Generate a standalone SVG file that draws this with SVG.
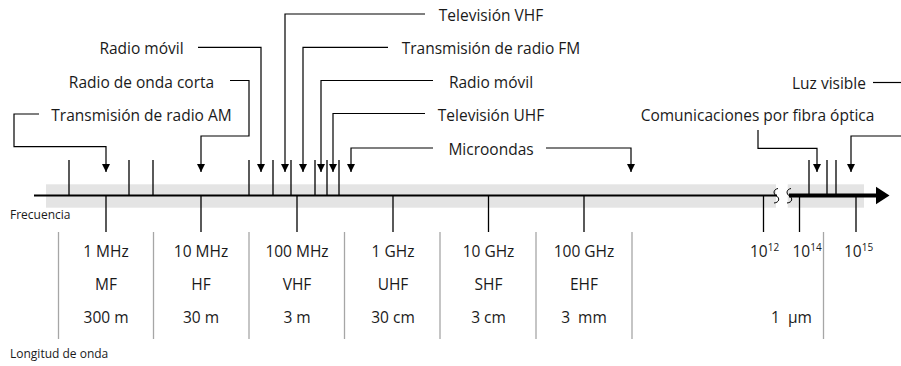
<svg xmlns="http://www.w3.org/2000/svg" width="901" height="366" viewBox="0 0 901 366">
<defs>
<marker id="ah" markerUnits="userSpaceOnUse" markerWidth="9" markerHeight="9" refX="8" refY="4" orient="auto">
<path d="M0,0 L8,4 L0,8 z" fill="#000"/>
</marker>
<style>
.t{font-family:"Open Sans","Noto Sans","Liberation Sans",sans-serif;font-size:15.5px;fill:#1a1a1a}
.s{font-family:"Open Sans","Noto Sans","Liberation Sans",sans-serif;font-size:12px;fill:#1a1a1a}
.c{text-anchor:middle}
.sup{font-size:10px}
.con{fill:none;stroke:#000;stroke-width:1.2}
.arr{marker-end:url(#ah)}
.tick{stroke:#000;stroke-width:1.3}
.sep{stroke:#a6a6a6;stroke-width:1.3}
.band{fill:#e4e4e4}
</style>
</defs>

<g id="axis">
<rect class="band" x="46" y="184.3" width="730" height="23.4"/>
<rect class="band" x="787.7" y="184.3" width="76.3" height="23.4"/>
<line x1="34" y1="195.5" x2="777" y2="195.5" stroke="#000" stroke-width="2.2"/>
<path d="M778,188.5 C773,189.5 773,194 776.5,196 C780,198 779.5,202.5 774,203" fill="none" stroke="#000" stroke-width="1"/>
<path d="M791,188.5 C786,189.5 786,194 789.5,196 C793,198 792.5,202.5 787,203" fill="none" stroke="#000" stroke-width="1"/>
<line x1="789" y1="195.5" x2="878" y2="195.5" stroke="#000" stroke-width="4"/>
<polygon points="876,186.7 889.5,195.5 876,204.3" fill="#000"/>
</g>

<g id="upper-ticks">
<line class="tick" x1="69" y1="160" x2="69" y2="195"/>
<line class="tick" x1="129" y1="160" x2="129" y2="195"/>
<line class="tick" x1="153" y1="160" x2="153" y2="195"/>
<line class="tick" x1="249" y1="160" x2="249" y2="195"/>
<line class="tick" x1="273" y1="160" x2="273" y2="195"/>
<line class="tick" x1="291" y1="160" x2="291" y2="195"/>
<line class="tick" x1="315" y1="160" x2="315" y2="195"/>
<line class="tick" x1="327" y1="160" x2="327" y2="195"/>
<line class="tick" x1="339" y1="160" x2="339" y2="195"/>
<line class="tick" x1="809" y1="160" x2="809" y2="195"/>
<line class="tick" x1="827" y1="160" x2="827" y2="195"/>
<line class="tick" x1="836" y1="160" x2="836" y2="195"/>
</g>

<g id="lower-ticks">
<line class="tick" x1="106" y1="196" x2="106" y2="232"/>
<line class="tick" x1="201" y1="196" x2="201" y2="232"/>
<line class="tick" x1="297" y1="196" x2="297" y2="232"/>
<line class="tick" x1="393" y1="196" x2="393" y2="232"/>
<line class="tick" x1="488.5" y1="196" x2="488.5" y2="232"/>
<line class="tick" x1="584" y1="196" x2="584" y2="232"/>
<line class="tick" x1="763.5" y1="196" x2="763.5" y2="232"/>
<line class="tick" x1="799.5" y1="196" x2="799.5" y2="232"/>
<line class="tick" x1="856" y1="196" x2="856" y2="232"/>
</g>

<g id="separators">
<line class="sep" x1="58.5" y1="232" x2="58.5" y2="339"/>
<line class="sep" x1="153.5" y1="232" x2="153.5" y2="339"/>
<line class="sep" x1="249" y1="232" x2="249" y2="339"/>
<line class="sep" x1="344.5" y1="232" x2="344.5" y2="339"/>
<line class="sep" x1="440" y1="232" x2="440" y2="339"/>
<line class="sep" x1="536" y1="232" x2="536" y2="339"/>
<line class="sep" x1="632" y1="232" x2="632" y2="339"/>
<line class="sep" x1="823.5" y1="232" x2="823.5" y2="339"/>
</g>

<g id="connectors">
<path class="con arr" d="M39,114 H14 V146.7 H106 V172"/>
<path class="con arr" d="M230,80.5 H249 V136 H201 V172"/>
<path class="con arr" d="M198,47.3 H261 V172"/>
<path class="con arr" d="M425,14 H285 V172"/>
<path class="con arr" d="M388,47.3 H303 V172"/>
<path class="con arr" d="M433,80.5 H321 V172"/>
<path class="con arr" d="M425,113.5 H333 V172"/>
<path class="con arr" d="M433,148 H351 V172"/>
<path class="con arr" d="M546,148 H631 V172"/>
<path class="con arr" d="M758,130 V148.3 H817 V172"/>
<path class="con arr" d="M901,136 H851 V172"/>
<path class="con" d="M873,82.5 H901"/>
</g>

<g id="label-am"><text class="t c" x="141.5" y="121">Transmisión de radio AM</text></g>
<g id="label-onda-corta"><text class="t c" x="141.5" y="87.5">Radio de onda corta</text></g>
<g id="label-movil-1"><text class="t c" x="141.5" y="54.3">Radio móvil</text></g>
<g id="label-tv-vhf"><text class="t c" x="491" y="21">Televisión VHF</text></g>
<g id="label-fm"><text class="t c" x="491" y="54.3">Transmisión de radio FM</text></g>
<g id="label-movil-2"><text class="t c" x="491" y="87.5">Radio móvil</text></g>
<g id="label-tv-uhf"><text class="t c" x="491" y="121">Televisión UHF</text></g>
<g id="label-micro"><text class="t c" x="491" y="154.5">Microondas</text></g>
<g id="label-luz"><text class="t c" x="829" y="88.5">Luz visible</text></g>
<g id="label-fibra"><text class="t c" x="757.5" y="121">Comunicaciones por fibra óptica</text></g>

<g id="axis-labels">
<text class="s" x="10" y="219">Frecuencia</text>
<text class="s" x="10" y="358">Longitud de onda</text>
</g>

<g id="col-mf">
<text class="t c" x="106" y="257">1 MHz</text>
<text class="t c" x="106" y="290">MF</text>
<text class="t c" x="106" y="323">300 m</text>
</g>
<g id="col-hf">
<text class="t c" x="201" y="257">10 MHz</text>
<text class="t c" x="201" y="290">HF</text>
<text class="t c" x="201" y="323">30 m</text>
</g>
<g id="col-vhf">
<text class="t c" x="297" y="257">100 MHz</text>
<text class="t c" x="297" y="290">VHF</text>
<text class="t c" x="297" y="323">3 m</text>
</g>
<g id="col-uhf">
<text class="t c" x="393" y="257">1 GHz</text>
<text class="t c" x="393" y="290">UHF</text>
<text class="t c" x="393" y="323">30 cm</text>
</g>
<g id="col-shf">
<text class="t c" x="488.5" y="257">10 GHz</text>
<text class="t c" x="488.5" y="290">SHF</text>
<text class="t c" x="488.5" y="323">3 cm</text>
</g>
<g id="col-ehf">
<text class="t c" x="584" y="257">100 GHz</text>
<text class="t c" x="584" y="290">EHF</text>
<text class="t c" x="584" y="323" xml:space="preserve">3  mm</text>
</g>
<g id="col-optical">
<text class="t" x="750" y="257">10<tspan class="sup" dy="-6">12</tspan></text>
<text class="t" x="792.5" y="257">10<tspan class="sup" dy="-6">14</tspan></text>
<text class="t" x="844" y="257">10<tspan class="sup" dy="-6">15</tspan></text>
<text class="t" x="771" y="323" xml:space="preserve">1  µm</text>
</g>
</svg>
